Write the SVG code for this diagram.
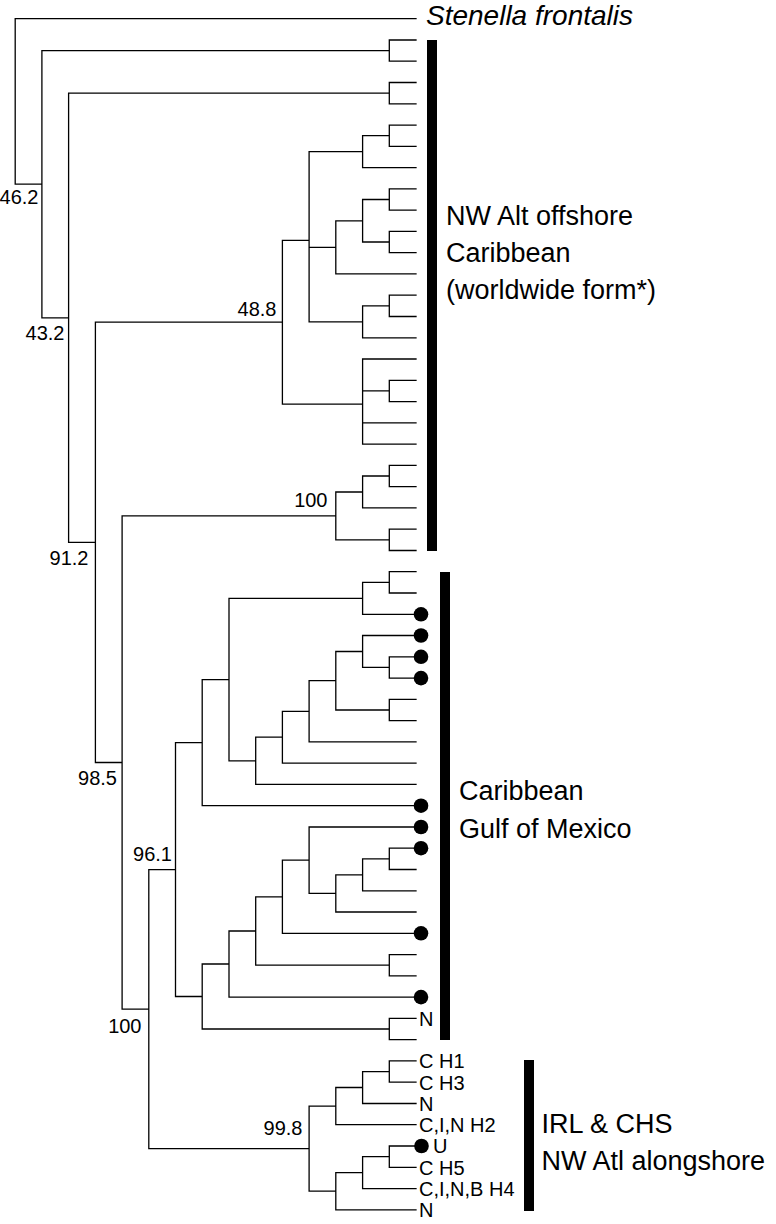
<svg xmlns="http://www.w3.org/2000/svg" width="776" height="1224" viewBox="0 0 776 1224">
<style>
.br{fill:none;stroke:#000;stroke-width:1.3;stroke-linecap:square}
.bar{fill:#000}
.dot{fill:#000}
.lf{font-family:"Liberation Sans",Arial,sans-serif;font-size:20px;fill:#000}
.sp{font-family:"Liberation Sans",Arial,sans-serif;font-size:20px;fill:#000;text-anchor:end}
.grp{font-family:"Liberation Sans",Arial,sans-serif;font-size:27px;fill:#000}
.sp-it{font-family:"Liberation Sans",Arial,sans-serif;font-size:28px;font-style:italic;fill:#000}
</style>
<rect width="776" height="1224" fill="#fff"/>
<g id="connectors">
<path class="br" d="
M15.2,18.7V184.2 M15.2,18.7H416 M15.2,184.2H41.9
M41.9,50.6V317.8 M41.9,50.6H389.3 M41.9,317.8H68.6
M389.3,40V61.2 M389.3,40H416 M389.3,61.2H416
M68.6,93.1V542.4 M68.6,93.1H389.3 M68.6,542.4H95.4
M389.3,82.5V103.8 M389.3,82.5H416 M389.3,103.8H416
M95.4,322.2V762.5 M95.4,322.2H282.4 M95.4,762.5H122.1
M282.4,240.3V404.2 M282.4,240.3H309.1 M282.4,404.2H362.6
M309.1,151.6V321.8 M309.1,151.6H362.6 M309.1,247.4H335.8 M309.1,321.8H362.6
M362.6,135.7V167.6 M362.6,135.7H389.3 M362.6,167.6H416
M389.3,125.1V146.3 M389.3,125.1H416 M389.3,146.3H416
M335.8,220.8V273.9 M335.8,220.8H362.6 M335.8,273.9H416
M362.6,199.5V242 M362.6,199.5H389.3 M362.6,242H389.3
M389.3,188.9V210.1 M389.3,188.9H416 M389.3,210.1H416
M389.3,231.4V252.7 M389.3,231.4H416 M389.3,252.7H416
M362.6,305.8V337.8 M362.6,305.8H389.3 M362.6,337.8H416
M389.3,295.2V316.5 M389.3,295.2H416 M389.3,316.5H416
M362.6,359V444.1 M362.6,359H416 M362.6,390.9H389.3 M362.6,422.8H416 M362.6,444.1H416
M389.3,380.3V401.6 M389.3,380.3H416 M389.3,401.6H416
M122.1,515.9V1009.1 M122.1,515.9H335.8 M122.1,1009.1H148.8
M335.8,492V539.8 M335.8,492H362.6 M335.8,539.8H389.3
M362.6,476V507.9 M362.6,476H389.3 M362.6,507.9H416
M389.3,465.4V486.6 M389.3,465.4H416 M389.3,486.6H416
M389.3,529.2V550.5 M389.3,529.2H416 M389.3,550.5H416
M148.8,869.6V1148.6 M148.8,869.6H175.5 M148.8,1148.6H309.1
M175.5,742.6V996.5 M175.5,742.6H202.2 M175.5,996.5H202.2
M202.2,679.6V805.7 M202.2,679.6H229 M202.2,805.7H416
M229,598.3V760.8 M229,598.3H362.6 M229,760.8H255.7
M362.6,582.4V614.3 M362.6,582.4H389.3 M362.6,614.3H416
M389.3,571.7V593 M389.3,571.7H416 M389.3,593H416
M255.7,737.2V784.4 M255.7,737.2H282.4 M255.7,784.4H416
M282.4,711.3V763.2 M282.4,711.3H309.1 M282.4,763.2H416
M309.1,680.7V741.9 M309.1,680.7H335.8 M309.1,741.9H416
M335.8,651.5V710 M335.8,651.5H362.6 M335.8,710H389.3
M362.6,635.5V667.4 M362.6,635.5H416 M362.6,667.4H389.3
M389.3,656.8V678.1 M389.3,656.8H416 M389.3,678.1H416
M389.3,699.3V720.6 M389.3,699.3H416 M389.3,720.6H416
M202.2,964V1029 M202.2,964H229 M202.2,1029H389.3
M229,931V997.1 M229,931H255.7 M229,997.1H416
M255.7,896.8V965.2 M255.7,896.8H282.4 M255.7,965.2H389.3
M389.3,954.6V975.9 M389.3,954.6H416 M389.3,975.9H416
M282.4,860.2V933.3 M282.4,860.2H309.1 M282.4,933.3H416
M309.1,827V893.4 M309.1,827H416 M309.1,893.4H335.8
M335.8,874.8V912 M335.8,874.8H362.6 M335.8,912H416
M362.6,858.9V890.8 M362.6,858.9H389.3 M362.6,890.8H416
M389.3,848.2V869.5 M389.3,848.2H416 M389.3,869.5H416
M389.3,1018.4V1039.7 M389.3,1018.4H416 M389.3,1039.7H416
M309.1,1106.1V1191.2 M309.1,1106.1H335.8 M309.1,1191.2H335.8
M335.8,1087.5V1124.7 M335.8,1087.5H362.6 M335.8,1124.7H416
M362.6,1071.6V1103.5 M362.6,1071.6H389.3 M362.6,1103.5H416
M389.3,1060.9V1082.2 M389.3,1060.9H416 M389.3,1082.2H416
M335.8,1172.6V1209.8 M335.8,1172.6H362.6 M335.8,1209.8H416
M362.6,1156.6V1188.6 M362.6,1156.6H389.3 M362.6,1188.6H416
M389.3,1146V1167.3 M389.3,1146H416 M389.3,1167.3H416
"/>
</g>
<g id="support-values">
<text class="sp" x="38.5" y="204">46.2</text>
<text class="sp" x="64.5" y="340">43.2</text>
<text class="sp" x="88.5" y="565">91.2</text>
<text class="sp" x="117" y="785">98.5</text>
<text class="sp" x="141.5" y="1032.5">100</text>
<text class="sp" x="172" y="861">96.1</text>
<text class="sp" x="276.5" y="315.5">48.8</text>
<text class="sp" x="327.5" y="507">100</text>
<text class="sp" x="302.5" y="1134.5">99.8</text>
</g>
<g id="outgroup">
<text class="sp-it" x="426" y="25">Stenella frontalis</text>
</g>
<g id="leaf-markers">
<circle class="dot" cx="421" cy="614.3" r="7.3"/>
<circle class="dot" cx="421" cy="635.5" r="7.3"/>
<circle class="dot" cx="421" cy="656.8" r="7.3"/>
<circle class="dot" cx="421" cy="678.1" r="7.3"/>
<circle class="dot" cx="421" cy="805.7" r="7.3"/>
<circle class="dot" cx="421" cy="827" r="7.3"/>
<circle class="dot" cx="421" cy="848.2" r="7.3"/>
<circle class="dot" cx="421" cy="933.3" r="7.3"/>
<circle class="dot" cx="421" cy="997.1" r="7.3"/>
<circle class="dot" cx="421.5" cy="1146" r="7.3"/>
</g>
<g id="leaf-labels">
<text class="lf" x="419" y="1025.6">N</text>
<text class="lf" x="419" y="1068.2">C H1</text>
<text class="lf" x="419" y="1089.5">C H3</text>
<text class="lf" x="419" y="1110.8">N</text>
<text class="lf" x="419" y="1132">C,I,N H2</text>
<text class="lf" x="433" y="1153.3">U</text>
<text class="lf" x="419" y="1174.6">C H5</text>
<text class="lf" x="419" y="1195.9">C,I,N,B H4</text>
<text class="lf" x="419" y="1217.1">N</text>
</g>
<g id="clade-offshore">
<rect class="bar" x="427" y="40" width="10" height="511"/>
<text class="grp" x="446" y="225">NW Alt offshore</text>
<text class="grp" x="446" y="262">Caribbean</text>
<text class="grp" x="446" y="299">(worldwide form*)</text>
</g>
<g id="clade-gulf">
<rect class="bar" x="440" y="572" width="10" height="468"/>
<text class="grp" x="459" y="800">Caribbean</text>
<text class="grp" x="459" y="838">Gulf of Mexico</text>
</g>
<g id="clade-alongshore">
<rect class="bar" x="524" y="1060" width="10" height="151"/>
<text class="grp" x="541.5" y="1133">IRL &amp; CHS</text>
<text class="grp" x="541.5" y="1170">NW Atl alongshore</text>
</g>
</svg>
